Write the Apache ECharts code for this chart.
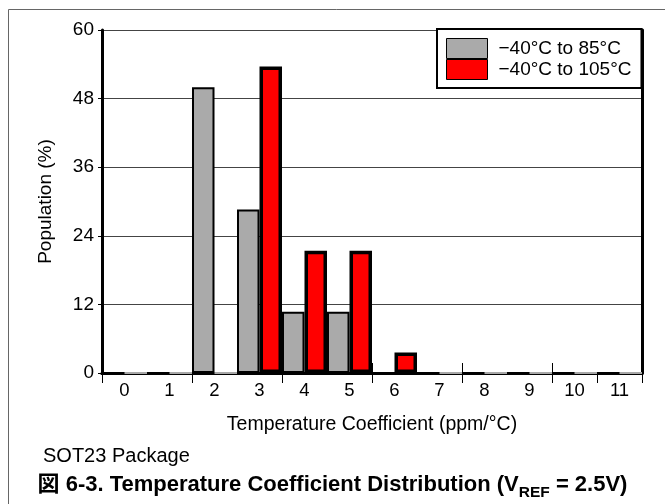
<!DOCTYPE html>
<html>
<head>
<meta charset="utf-8">
<script src="https://cdn.jsdelivr.net/npm/echarts@6/dist/echarts.min.js"></script>
<style>
html,body{margin:0;padding:0;background:#fff;}
#chart{width:665px;height:504px;}
</style>
</head>
<body>
<div id="chart"></div>
<script>
const categories = ['0','1','2','3','4','5','6','7','8','9','10','11'];
const series85 = [0, 0, 50, 28.6, 10.7, 10.7, 0, 0, 0, 0, 0, 0];
const series105 = [0, 0, 0, 53.6, 21.4, 21.4, 3.6, 0, 0, 0, 0, 0];
const seriesNames = ['\u221240\u00B0C to 85\u00B0C', '\u221240\u00B0C to 105\u00B0C'];
const yTicks = [0, 12, 24, 36, 48, 60];
const xTitle = 'Temperature Coefficient (ppm/\u00B0C)';
const yTitle = 'Population (%)';
const noteText = 'SOT23 Package';

const FONT = '"Liberation Sans", Arial, sans-serif';

const chart = echarts.init(document.getElementById('chart'), null, {renderer: 'canvas'});

const data85 = series85.map(v => v === 0 ? {value: v, itemStyle: {borderWidth: 0}} : v);
const data105 = series105.map(v => v === 0 ? {value: v, itemStyle: {borderColor: '#a8a8a8', borderWidth: 2}} : v);

const option = {
  backgroundColor: '#fff',
  animation: false,
  textStyle: {fontFamily: FONT},
  grid: {left: 102, right: 23, top: 30, bottom: 131, containLabel: false},
  legend: {
    show: true,
    orient: 'vertical',
    left: 437,
    top: 29,
    padding: [9, 10, 8, 9],
    itemGap: 0,
    itemWidth: 41,
    itemHeight: 20,
    icon: 'rect',
    backgroundColor: '#fff',
    borderColor: '#000',
    borderWidth: 2,
    borderRadius: 0,
    itemStyle: {borderColor: '#000', borderWidth: 1},
    textStyle: {fontFamily: FONT, fontSize: 19, color: '#000', padding: [0, 0, 0, 6]},
    data: seriesNames
  },
  xAxis: [{
    type: 'category',
    data: categories,
    position: 'bottom',
    boundaryGap: true,
    axisLine: {show: true, lineStyle: {color: '#000', width: 3}},
    axisTick: {show: true, interval: 1, length: 10, lineStyle: {color: '#000', width: 1}},
    axisLabel: {interval: 0, margin: 8, fontSize: 18.5, color: '#000', fontFamily: FONT},
    name: xTitle,
    nameLocation: 'middle',
    nameGap: 42,
    nameTextStyle: {fontSize: 19.5, color: '#000', fontFamily: FONT},
    splitLine: {show: false}
  }, {
    type: 'category',
    data: categories,
    position: 'top',
    boundaryGap: true,
    axisLine: {show: true, lineStyle: {color: '#000', width: 3}},
    axisTick: {show: true, interval: 1, length: 10, lineStyle: {color: '#000', width: 1}},
    axisLabel: {show: false},
    splitLine: {show: false}
  }],
  yAxis: [{
    type: 'value',
    min: 0,
    max: 60,
    interval: 12,
    position: 'left',
    axisLine: {show: true, lineStyle: {color: '#000', width: 3}},
    axisTick: {show: true, length: 4, lineStyle: {color: '#000', width: 1}},
    axisLabel: {margin: 8, fontSize: 19, color: '#000', fontFamily: FONT,
      formatter: v => yTicks.indexOf(v) >= 0 ? String(v) : ''},
    splitLine: {show: true, lineStyle: {color: '#444', width: 1}},
    name: yTitle,
    nameLocation: 'middle',
    nameGap: 47,
    nameTextStyle: {fontSize: 19, color: '#000', fontFamily: FONT}
  }, {
    type: 'value',
    min: 0,
    max: 60,
    interval: 12,
    position: 'right',
    axisLine: {show: true, lineStyle: {color: '#000', width: 3}},
    axisTick: {show: false},
    axisLabel: {show: false},
    splitLine: {show: false}
  }],
  series: [{
    name: seriesNames[0],
    type: 'bar',
    xAxisIndex: 0,
    yAxisIndex: 0,
    data: data85,
    barGap: '0%',
    barCategoryGap: '0%',
    itemStyle: {color: '#aaaaaa', borderColor: '#000', borderWidth: 2},
    z: 2
  }, {
    name: seriesNames[1],
    type: 'bar',
    xAxisIndex: 0,
    yAxisIndex: 0,
    data: data105,
    barGap: '0%',
    barCategoryGap: '0%',
    itemStyle: {color: '#ff0000', borderColor: '#000', borderWidth: 3.5},
    z: 3
  }],
  graphic: [
    {type: 'line', shape: {x1: 8.5, y1: 9.5, x2: 665, y2: 9.5}, style: {stroke: '#666', lineWidth: 1}, silent: true},
    {type: 'line', shape: {x1: 8.5, y1: 9.5, x2: 8.5, y2: 504}, style: {stroke: '#666', lineWidth: 1}, silent: true},
    {type: 'text', left: 43, top: 446, style: {text: noteText, font: '20px ' + FONT, fill: '#000'}},
    {type: 'text', left: 'center', top: 474, style: {
      text: '{a|\u56F3 6-3. Temperature Coefficient Distribution (V}{s|REF}{a| = 2.5V)}',
      rich: {
        a: {fontFamily: '"Liberation Sans", "Noto Sans CJK JP", sans-serif', fontWeight: 'bold', fontSize: 22, fill: '#000', verticalAlign: 'bottom', lineHeight: 25},
        s: {fontFamily: '"Liberation Sans", sans-serif', fontWeight: 'bold', fontSize: 15.5, fill: '#000', verticalAlign: 'bottom', lineHeight: 25, padding: [0, 0, -5, 0]}
      }
    }}
  ]
};
chart.setOption(option);
</script>
</body>
</html>
